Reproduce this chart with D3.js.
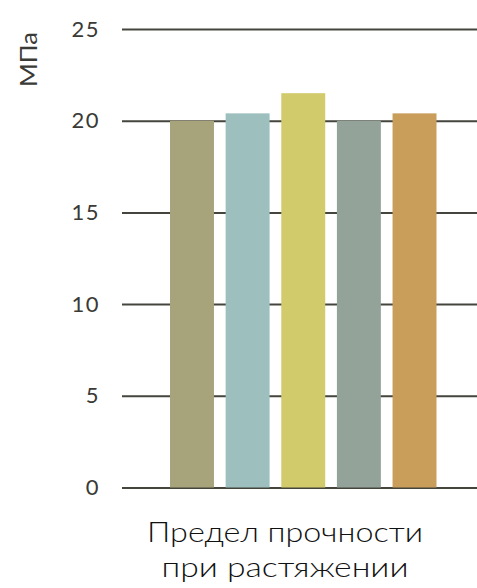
<!DOCTYPE html>
<html>
<head>
<meta charset="utf-8">
<script src="https://cdn.jsdelivr.net/npm/d3@7"></script>
<style>
  html, body { margin: 0; padding: 0; background: #ffffff; }
  svg { display: block; }
</style>
</head>
<body>
<svg id="chart" width="477" height="588"></svg>
<script>
// Tensile strength of five samples, MPa
const samples = ["Образец 1", "Образец 2", "Образец 3", "Образец 4", "Образец 5"];
const strengthValues = [20.0, 20.4, 21.5, 20.0, 20.4];
const barColors = ["#a7a47b", "#9dbfbe", "#d2cb6b", "#93a39a", "#c99d5a"];
const yTicks = [0, 5, 10, 15, 20, 25];
const categoryLines = ["Предел прочности", "при растяжении"];
const yTitle = "МПа";

const svg = d3.select("#chart");
const font = "Lato, 'Open Sans', sans-serif";

const y = d3.scaleLinear().domain([0, 25]).range([487.5, 29]);
const x = d3.scaleBand().domain(samples).range([170, 436.5]).paddingInner(0.21).paddingOuter(0);

// horizontal gridlines with tick labels
const yAxis = d3.axisLeft(y).tickValues(yTicks).tickSize(-355).tickPadding(22);
const gAxis = svg.append("g").attr("transform", "translate(122,0)").call(yAxis);
gAxis.select(".domain").remove();
gAxis.selectAll(".tick line").attr("stroke", "#45453d").attr("stroke-width", 2);
gAxis.selectAll(".tick text")
  .attr("fill", "#3a3a36")
  .attr("letter-spacing", "1.5px")
  .style("font-family", font)
  .style("font-size", "22px");

// bars
svg.append("g").selectAll("rect")
  .data(strengthValues)
  .join("rect")
  .attr("x", (d, i) => x(samples[i]))
  .attr("width", x.bandwidth())
  .attr("y", d => y(d))
  .attr("height", d => y(0) - y(d))
  .attr("fill", (d, i) => barColors[i]);

// axis title
svg.append("text")
  .attr("transform", "translate(36.5,59.5) rotate(-90)")
  .attr("text-anchor", "middle")
  .attr("fill", "#3a3a36")
  .attr("textLength", 55)
  .attr("lengthAdjust", "spacingAndGlyphs")
  .style("font-family", font)
  .style("font-size", "24px")
  .text(yTitle);

// category label, two lines
const lineWidths = [276, 247];
svg.append("g").selectAll("text")
  .data(categoryLines)
  .join("text")
  .attr("x", 285)
  .attr("y", (d, i) => 541.5 + i * 35)
  .attr("text-anchor", "middle")
  .attr("fill", "#111111")
  .attr("textLength", (d, i) => lineWidths[i])
  .attr("lengthAdjust", "spacingAndGlyphs")
  .style("font-family", font)
  .style("font-weight", 300)
  .style("font-size", "27px")
  .text(d => d);
</script>
</body>
</html>
